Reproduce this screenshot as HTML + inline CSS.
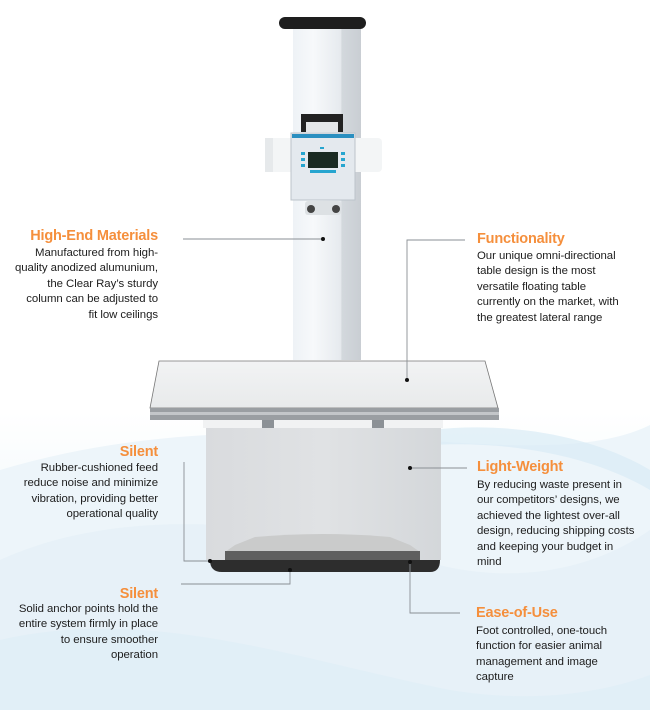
<!DOCTYPE html>
<html><head><meta charset="utf-8"><style>
html,body{margin:0;padding:0}
body{width:650px;height:710px;position:relative;overflow:hidden;background:#fff;font-family:"Liberation Sans",sans-serif;}
.t{position:absolute;font-size:14.5px;font-weight:bold;color:#f58f3c;white-space:nowrap;letter-spacing:-0.2px}
.b{position:absolute;font-size:11.4px;line-height:15.4px;color:#1d1d1d;white-space:nowrap;letter-spacing:-0.05px}
.r{text-align:right}
svg{position:absolute;left:0;top:0}
</style></head><body>
<svg width="650" height="710">
<defs>
<linearGradient id="bg" x1="0" y1="0" x2="0" y2="1">
<stop offset="0" stop-color="#fff"/><stop offset="0.58" stop-color="#fff"/><stop offset="0.75" stop-color="#f1f8fb"/><stop offset="1" stop-color="#eef6fa"/></linearGradient>
<linearGradient id="col" x1="0" x2="1"><stop offset="0" stop-color="#eef2f6"/><stop offset="0.3" stop-color="#f7f9fb"/><stop offset="0.7" stop-color="#e6eaee"/><stop offset="0.72" stop-color="#d3d8dd"/><stop offset="1" stop-color="#c9ced3"/></linearGradient>
<linearGradient id="tab" x1="0" y1="0" x2="0" y2="1"><stop offset="0" stop-color="#f2f3f4"/><stop offset="1" stop-color="#e8eaeb"/></linearGradient>
<linearGradient id="body" x1="0" x2="1"><stop offset="0" stop-color="#d9dbde"/><stop offset="0.5" stop-color="#e0e2e4"/><stop offset="1" stop-color="#d4d7da"/></linearGradient>
</defs>
<rect width="650" height="710" fill="url(#bg)"/>
<path d="M0 470 C150 425 300 430 420 440 C520 448 600 450 650 425 L650 710 L0 710Z" fill="#edf5fa"/>
<path d="M0 560 C120 505 280 520 420 560 C520 590 600 565 650 530 L650 710 L0 710Z" fill="#e6f1f7" opacity="0.9"/>
<path d="M0 640 C150 605 300 660 450 690 C540 705 610 690 650 675 L650 710 L0 710Z" fill="#e0eef6" opacity="0.9"/>
<path d="M430 430 C520 420 600 440 650 470 L650 490 C600 460 520 440 430 445Z" fill="#d9ebf5" opacity="0.7"/>
<rect x="293" y="25" width="68" height="335" fill="url(#col)"/>
<rect x="279" y="17" width="87" height="12" rx="6" fill="#1e1e1e"/>
<rect x="265" y="138" width="117" height="34" rx="4" fill="#f3f5f6"/>
<rect x="265" y="138" width="8" height="34" fill="#e6e9eb"/>
<rect x="301" y="114" width="42" height="18" fill="#222"/>
<rect x="306" y="122" width="32" height="10" fill="#e4e6e8"/>
<rect x="291" y="133" width="64" height="67" fill="#e4e9ee" stroke="#bcc4cb"/>
<rect x="292" y="134" width="62" height="4" fill="#2a8fc0"/>
<rect x="308" y="152" width="30" height="16" fill="#1a2a22"/>
<g fill="#26a5cf"><rect x="301" y="152" width="4" height="3"/><rect x="301" y="158" width="4" height="3"/><rect x="301" y="164" width="4" height="3"/><rect x="341" y="152" width="4" height="3"/><rect x="341" y="158" width="4" height="3"/><rect x="341" y="164" width="4" height="3"/><rect x="310" y="170" width="26" height="3"/><rect x="320" y="147" width="4" height="2"/></g>
<rect x="305" y="201" width="36" height="14" rx="3" fill="#dde1e4"/>
<circle cx="311" cy="209" r="4" fill="#444"/><circle cx="336" cy="209" r="4" fill="#444"/>
<path d="M159 361 L485 361 L498 408 L150 408Z" fill="url(#tab)" stroke="#777" stroke-width="0.8"/>
<rect x="150" y="408" width="349" height="12" fill="#9a9ea2"/>
<rect x="150" y="412" width="349" height="3" fill="#c3c6c9"/>
<rect x="203" y="420" width="240" height="8" fill="#f1f2f3"/>
<rect x="262" y="420" width="12" height="8" fill="#8c9196"/><rect x="372" y="420" width="12" height="8" fill="#8c9196"/>
<rect x="206" y="428" width="235" height="132" fill="url(#body)"/>
<path d="M225 552 L235 545 L255 537 Q323 531 390 537 L410 545 L420 552Z" fill="#cacbcb"/>
<path d="M210 560 L440 560 Q440 572 430 572 L222 572 Q210 572 210 560Z" fill="#2d2d2d"/>
<rect x="225" y="551" width="195" height="9" fill="#5f5f5f"/>
<g stroke="#8a8f94" stroke-width="0.9" fill="none">
<path d="M183 239 H323"/>
<path d="M465 240 H407 V380"/>
<path d="M467 468 H410"/>
<path d="M184 462 V561 H210"/>
<path d="M181 584 H290 V570"/>
<path d="M460 613 H410 V562"/>
</g>
<g fill="#111"><circle cx="323" cy="239" r="2"/><circle cx="407" cy="380" r="2"/><circle cx="410" cy="468" r="2"/><circle cx="210" cy="561" r="2"/><circle cx="290" cy="570" r="2"/><circle cx="410" cy="562" r="2"/></g>
</svg>
<div class="t r" style="right:492px;top:228px">High-End Materials</div>
<div class="b r" style="right:492px;top:246px">Manufactured from high-<br>quality anodized alumunium,<br>the Clear Ray’s sturdy<br>column can be adjusted to<br>fit low ceilings</div>
<div class="t" style="left:477px;top:231px">Functionality</div>
<div class="b" style="left:477px;top:249px">Our unique omni-directional<br>table design is the most<br>versatile floating table<br>currently on the market, with<br>the greatest lateral range</div>
<div class="t r" style="right:492px;top:444px">Silent</div>
<div class="b r" style="right:492px;top:461px">Rubber-cushioned feed<br>reduce noise and minimize<br>vibration, providing better<br>operational quality</div>
<div class="t" style="left:477px;top:459px">Light-Weight</div>
<div class="b" style="left:477px;top:478px">By reducing waste present in<br>our competitors’ designs, we<br>achieved the lightest over-all<br>design, reducing shipping costs<br>and keeping your budget in<br>mind</div>
<div class="t r" style="right:492px;top:586px">Silent</div>
<div class="b r" style="right:492px;top:602px">Solid anchor points hold the<br>entire system firmly in place<br>to ensure smoother<br>operation</div>
<div class="t" style="left:476px;top:605px">Ease-of-Use</div>
<div class="b" style="left:476px;top:624px">Foot controlled, one-touch<br>function for easier animal<br>management and image<br>capture</div>
</body></html>
